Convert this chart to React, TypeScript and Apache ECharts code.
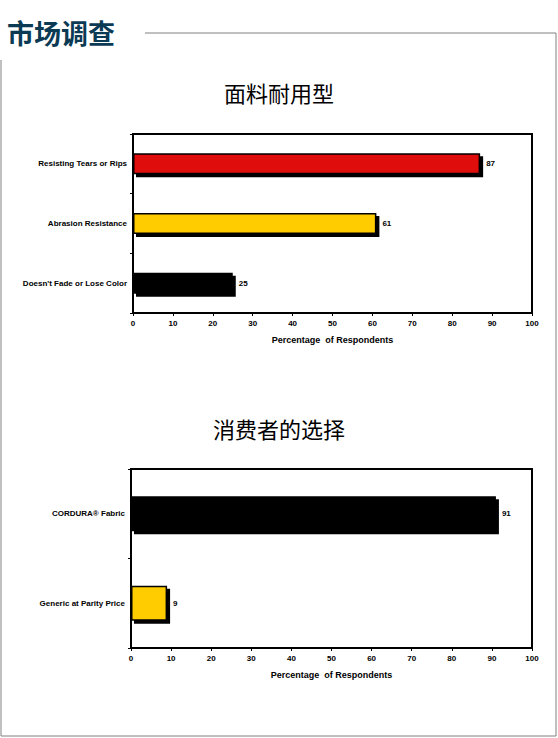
import { useEffect, useRef } from 'react';
import * as echarts from 'echarts';

const durabilityCats = ["Doesn't Fade or Lose Color", 'Abrasion Resistance', 'Resisting Tears or Rips'];
const durabilityVals = [25, 61, 87];
const durabilityColors = ['#000000', '#ffcc00', '#e00a0a'];

const choiceCats = ['Generic at Parity Price', 'CORDURA® Fabric'];
const choiceVals = [9, 91];
const choiceColors = ['#ffcc00', '#000000'];

const font = '"Liberation Sans", Arial, sans-serif';

function barData(vals: number[], colors: string[]) {
  return vals.map((v, i) => ({ value: v, itemStyle: { color: colors[i] } }));
}

const axisLabel = { fontFamily: font, fontWeight: 'bold' as const, fontSize: 8, color: '#000' };

export default function App() {
  const ref = useRef<HTMLDivElement | null>(null);

  useEffect(() => {
    if (!ref.current) return;
    const chart = echarts.init(ref.current, null, { renderer: 'svg' });
    const barStyle = {
      borderColor: '#000',
      borderWidth: 1.5,
      shadowColor: '#000',
      shadowOffsetX: 3,
      shadowOffsetY: 3,
      shadowBlur: 0,
    };
    const xAxisBase = {
      type: 'value' as const,
      min: 0,
      max: 100,
      interval: 10,
      splitLine: { show: false },
      axisLine: { show: true, lineStyle: { color: '#000', width: 2 } },
      axisTick: { show: true, length: 3, lineStyle: { color: '#000' } },
      axisLabel: { ...axisLabel, margin: 6 },
      name: 'Percentage  of Respondents',
      nameLocation: 'middle' as const,
      nameGap: 22,
      nameTextStyle: { fontFamily: font, fontWeight: 'bold' as const, fontSize: 9, color: '#000' },
    };
    const yAxisBase = {
      type: 'category' as const,
      axisLine: { show: true, lineStyle: { color: '#000', width: 2 } },
      axisTick: { show: true, length: 3, lineStyle: { color: '#000' } },
      axisLabel: { ...axisLabel, margin: 6 },
    };
    chart.setOption({
      animation: false,
      title: [
        { text: '市场调查', left: 2, top: 14, textStyle: { fontFamily: '"Noto Sans CJK SC"', fontWeight: 'bold', fontSize: 27, color: '#0b3a55' } },
        { text: '面料耐用型', left: 'center', top: 76, textStyle: { fontFamily: '"Noto Sans CJK SC"', fontWeight: 'normal', fontSize: 22, color: '#000' } },
        { text: '消费者的选择', left: 'center', top: 412, textStyle: { fontFamily: '"Noto Sans CJK SC"', fontWeight: 'normal', fontSize: 22, color: '#000' } },
      ],
      graphic: [
        { type: 'line', shape: { x1: 145, y1: 33, x2: 556, y2: 33 }, style: { stroke: '#808080', lineWidth: 1 } },
        { type: 'line', shape: { x1: 556, y1: 33, x2: 556, y2: 736 }, style: { stroke: '#808080', lineWidth: 1 } },
        { type: 'line', shape: { x1: 1, y1: 60, x2: 1, y2: 736 }, style: { stroke: '#808080', lineWidth: 1 } },
        { type: 'line', shape: { x1: 1, y1: 736, x2: 556, y2: 736 }, style: { stroke: '#808080', lineWidth: 1 } },
      ],
      grid: [
        { left: 133, top: 134, width: 399, height: 179, show: true, borderColor: '#000', borderWidth: 2, backgroundColor: '#fff' },
        { left: 131, top: 469, width: 401, height: 179, show: true, borderColor: '#000', borderWidth: 2, backgroundColor: '#fff' },
      ],
      xAxis: [
        { ...xAxisBase, gridIndex: 0 },
        { ...xAxisBase, gridIndex: 1 },
      ],
      yAxis: [
        { ...yAxisBase, gridIndex: 0, data: durabilityCats },
        { ...yAxisBase, gridIndex: 1, data: choiceCats },
      ],
      series: [
        {
          type: 'bar', xAxisIndex: 0, yAxisIndex: 0, barWidth: 21,
          data: barData(durabilityVals, durabilityColors),
          itemStyle: barStyle,
          label: { show: true, position: 'right', distance: 6, ...axisLabel },
        },
        {
          type: 'bar', xAxisIndex: 1, yAxisIndex: 1, barWidth: 35,
          data: barData(choiceVals, choiceColors),
          itemStyle: barStyle,
          label: { show: true, position: 'right', distance: 6, ...axisLabel },
        },
      ],
    });
    return () => chart.dispose();
  }, []);

  return <div ref={ref} style={{ position: 'absolute', left: 0, top: 0, width: 558, height: 738 }} />;
}
